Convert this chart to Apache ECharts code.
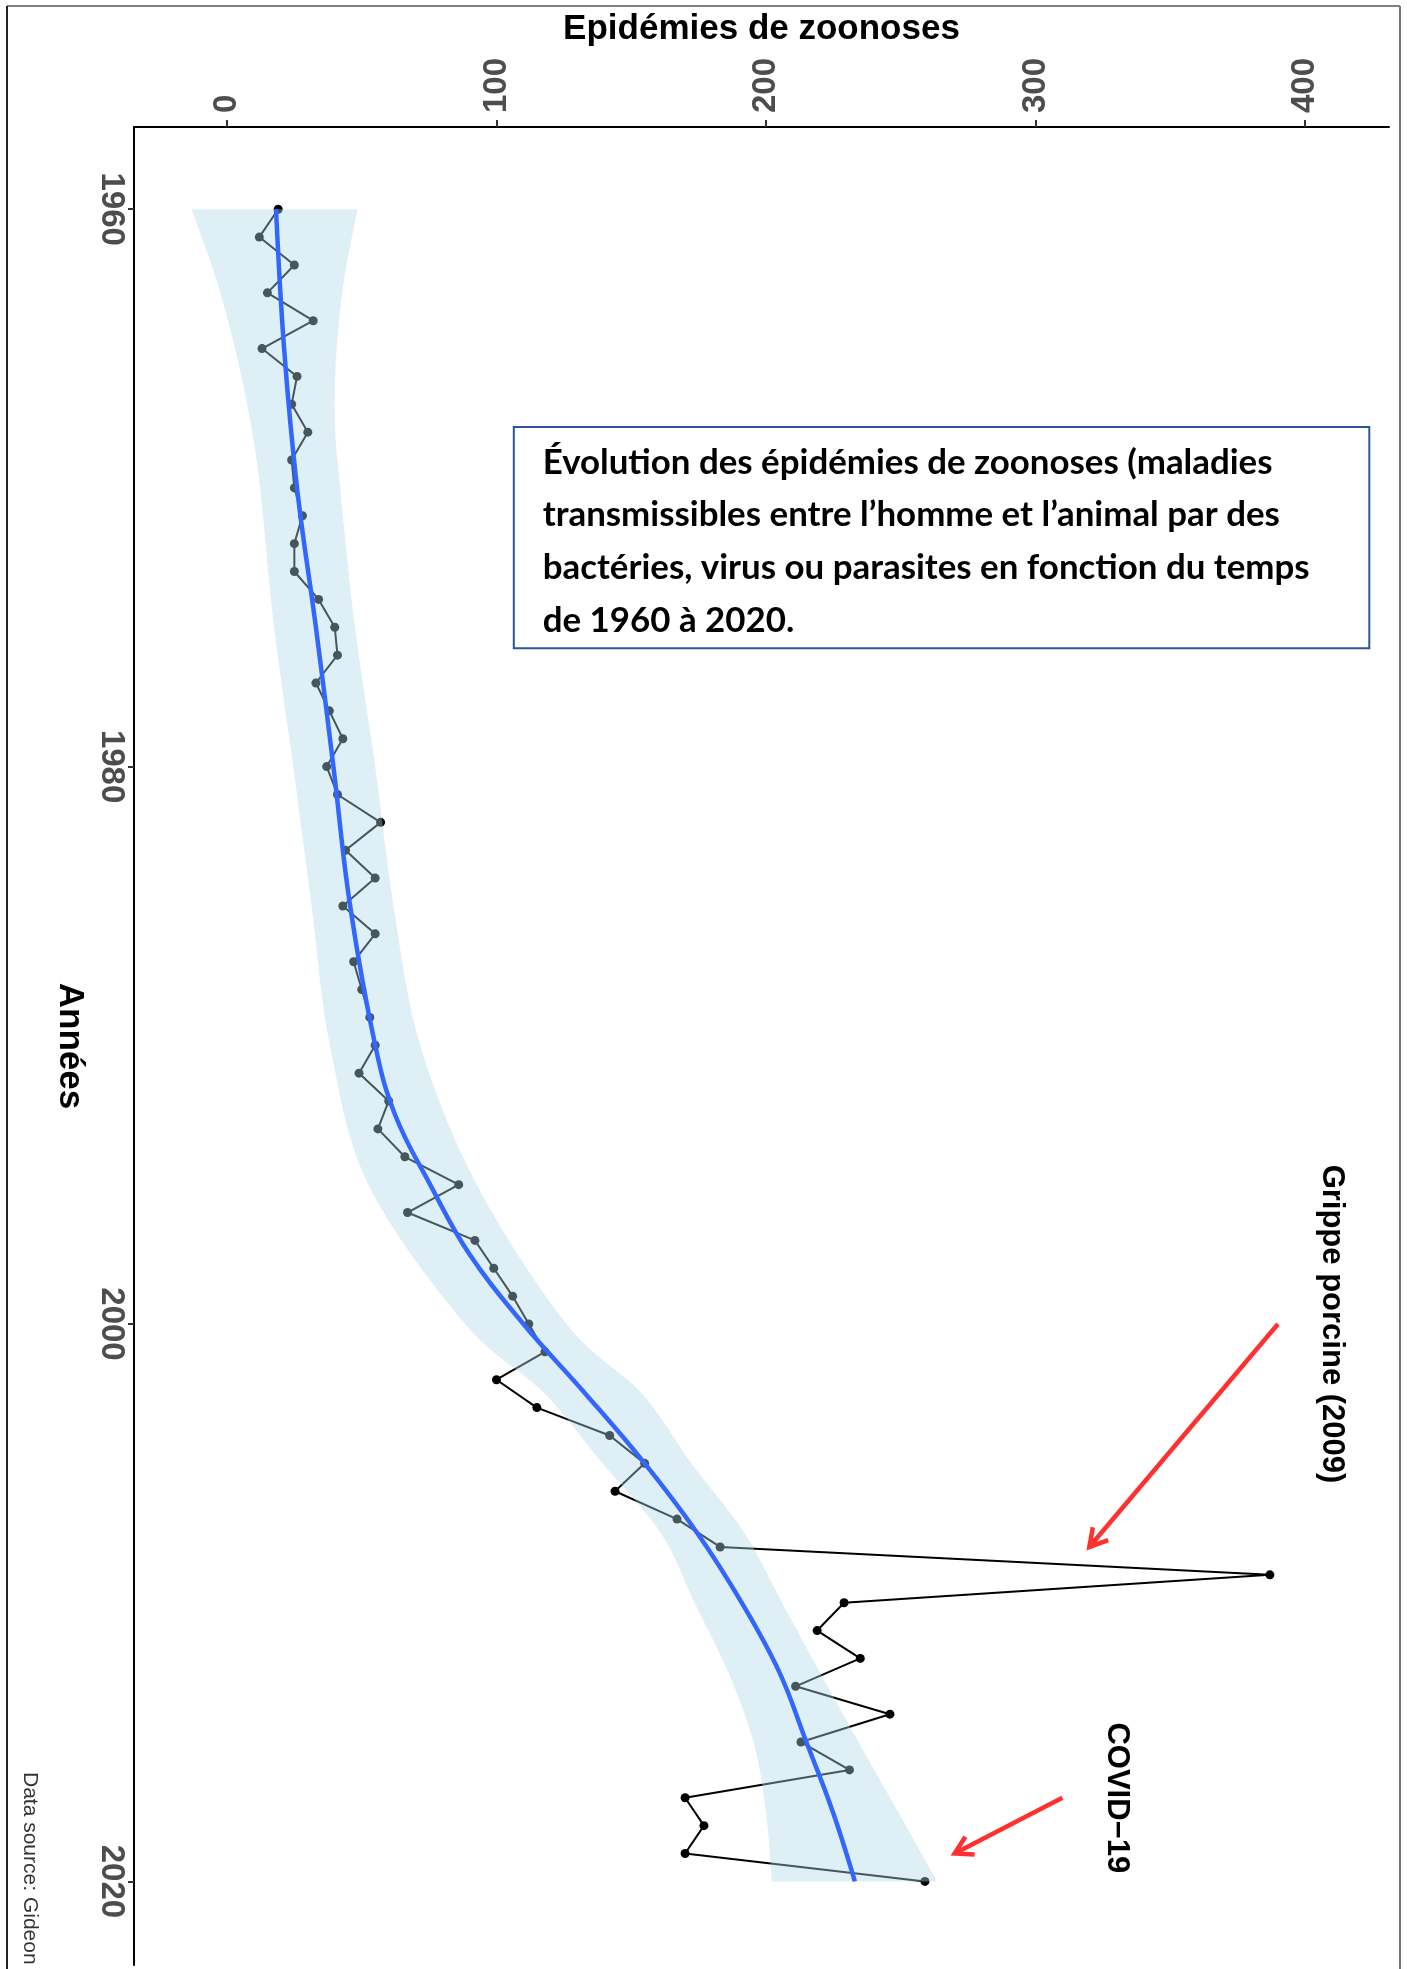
<!DOCTYPE html>
<html><head><meta charset="utf-8">
<script src="https://cdn.jsdelivr.net/npm/echarts@6/dist/echarts.min.js"></script>
<style>html,body{margin:0;padding:0;background:#fff}#c{width:1407px;height:1969px}</style>
</head><body><div id="c"></div>
<script>
// ---------------- DATA ----------------
const years = [1960,1961,1962,1963,1964,1965,1966,1967,1968,1969,
               1970,1971,1972,1973,1974,1975,1976,1977,1978,1979,
               1980,1981,1982,1983,1984,1985,1986,1987,1988,1989,
               1990,1991,1992,1993,1994,1995,1996,1997,1998,1999,
               2000,2001,2002,2003,2004,2005,2006,2007,2008,2009,
               2010,2011,2012,2013,2014,2015,2016,2017,2018,2019,2020];
const outbreaks = [19,12,25,15,32,13,26,24,30,24,
                   25,28,25,25,34,40,41,33,38,43,
                   37,41,57,44,55,43,55,47,50,53,
                   55,49,60,56,66,86,67,92,99,106,
                   112,118,100,115,142,155,144,167,183,387,
                   229,219,235,211,246,213,231,170,177,170,259];
// smoothed trend (loess)
const trendYears  = [1960,1965,1970,1975,1980,1985,1990,1992.5,1995,1997.5,2000,2002.5,2005,2007.5,2010,2012.5,2015,2017.5,2020];
const trendValues = [18.2,21.2,26,33,39.5,45.7,55,62.4,75.4,90,110,133,155,174.5,191,205,215,224.8,233];
// confidence band
const bandYears = [1960,1962.5,1965,1967.5,1970,1975,1980,1985,1990,1995,2000,2002.5,2005,2007.5,2010,2012.5,2015,2017.5,2020];
const bandLower = [-13.1,-4,3,8.5,12.3,17.5,24.6,31.4,38.2,52.5,88.4,118,139.3,161,173.5,186,195.4,200,202.2];
const bandUpper = [48.5,43.5,40.7,40,42,47.5,55,61.8,71.7,92.7,126,154,172.3,192,206,220,234.3,249,263.5];
const xTicks = [0,100,200,300,400];
const yTicks = [1960,1980,2000,2020];
const xTitle = 'Epidémies de zoonoses';
const yTitle = 'Années';
const caption = 'Data source: Gideon';
const boxLines = [
  'Évolution des épidémies de zoonoses (maladies',
  'transmissibles entre l’homme et l’animal par des',
  'bactéries, virus ou parasites en fonction du temps',
  'de 1960 à 2020.'
];
const annotations = [
  {text:'Grippe porcine (2009)', at:[410,2000], from:[390,2000], to:[320,2008]},
  {text:'COVID−19', at:[330,2017], from:[310,2017], to:[270,2019]}
];

// ---------------- CHART ----------------
const FONT = '"Liberation Sans", Arial, sans-serif';
const chart = echarts.init(document.getElementById('c'), null, {renderer:'canvas'});

function crSegments(pts){
  let d = '';
  for (let i=0;i<pts.length-1;i++){
    const p0 = pts[i-1]||pts[i], p1 = pts[i], p2 = pts[i+1], p3 = pts[i+2]||pts[i+1];
    const c1 = [p1[0]+(p2[0]-p0[0])/6, p1[1]+(p2[1]-p0[1])/6];
    const c2 = [p2[0]-(p3[0]-p1[0])/6, p2[1]-(p3[1]-p1[1])/6];
    d += ' C'+c1[0].toFixed(2)+','+c1[1].toFixed(2)+' '+c2[0].toFixed(2)+','+c2[1].toFixed(2)+' '+p2[0].toFixed(2)+','+p2[1].toFixed(2);
  }
  return d;
}

const option = {
  animation:false,
  backgroundColor:'#ffffff',
  grid:{left:134, top:127, right:18, bottom:4, containLabel:false},
  xAxis:{
    type:'value', position:'top', min:-34.5, max:431.2,
    name:xTitle, nameLocation:'middle', nameGap:80,
    nameTextStyle:{fontFamily:FONT, fontSize:35, fontWeight:'bold', color:'#000'},
    axisLine:{show:true, onZero:false, lineStyle:{color:'#000', width:2}},
    axisTick:{show:true, length:7, customValues:xTicks, lineStyle:{color:'#333', width:2}},
    axisLabel:{customValues:xTicks, rotate:-90, margin:14, fontFamily:FONT, fontSize:33,
               fontWeight:'bold', color:'#4d4d4d', formatter:v=>String(v)},
    splitLine:{show:false}
  },
  yAxis:{
    type:'value', inverse:true, min:1957.05, max:2023, position:'left',
    name:yTitle, nameLocation:'middle', nameGap:44, nameRotate:-90,
    nameTextStyle:{fontFamily:FONT, fontSize:35, fontWeight:'bold', color:'#000'},
    axisLine:{show:true, onZero:false, lineStyle:{color:'#000', width:2}},
    axisTick:{show:true, length:6, customValues:yTicks, lineStyle:{color:'#333', width:2}},
    axisLabel:{customValues:yTicks, rotate:-90, margin:6, fontFamily:FONT, fontSize:33,
               fontWeight:'bold', color:'#4d4d4d', formatter:v=>String(v)},
    splitLine:{show:false}
  },
  series:[
    {
      type:'line', name:'outbreaks', z:2, silent:true,
      data: years.map((y,i)=>[outbreaks[i], y]),
      symbol:'circle', symbolSize:9, showSymbol:true, showAllSymbol:true,
      lineStyle:{color:'#000', width:2}, itemStyle:{color:'#000'}
    },
    {
      type:'custom', name:'band', z:3, silent:true,
      data: bandYears.map((y,i)=>[bandLower[i], y, bandUpper[i]]),
      encode:{x:[0,2], y:1},
      renderItem:function(params, api){
        if (params.dataIndex !== 0) return null;
        const up = bandYears.map((y,i)=>api.coord([bandUpper[i], y]));
        const lo = bandYears.map((y,i)=>api.coord([bandLower[i], y])).reverse();
        const d = 'M'+up[0][0].toFixed(2)+','+up[0][1].toFixed(2) + crSegments(up)
                + ' L'+lo[0][0].toFixed(2)+','+lo[0][1].toFixed(2) + crSegments(lo) + ' Z';
        return {type:'path', shape:{pathData:d},
                style:{fill:'rgba(173,216,230,0.4)', stroke:null}};
      }
    },
    {
      type:'line', name:'trend', z:4, silent:true,
      data: trendYears.map((y,i)=>[trendValues[i], y]),
      smooth:0.4, showSymbol:false, symbol:'none',
      lineStyle:{color:'#3366FF', width:4.5}
    }
  ]
};
chart.setOption(option);

// ---------------- ANNOTATIONS ----------------
function px(v){ return chart.convertToPixel({gridIndex:0}, v); }
const RED = '#FF3030';
const g = [];
// outer frame
g.push({type:'line', z:100, shape:{x1:7,y1:6,x2:1400,y2:6}, style:{stroke:'#808080', lineWidth:2}});
g.push({type:'line', z:100, shape:{x1:7,y1:6,x2:7,y2:1969}, style:{stroke:'#222', lineWidth:2}});
g.push({type:'line', z:100, shape:{x1:1400,y1:6,x2:1400,y2:1969}, style:{stroke:'#777', lineWidth:2}});

annotations.forEach(a=>{
  const p = px(a.at);
  g.push({type:'text', z:100, x:p[0], y:p[1], rotation:-Math.PI/2,
    style:{text:a.text, fontFamily:FONT, fontWeight:'bold', fontSize:31, fill:'#000', align:'center', verticalAlign:'middle'}});
  const s = px(a.from), e = px(a.to);
  const ang = Math.atan2(s[1]-e[1], s[0]-e[0]);
  const L = 20, sp = Math.PI/6;
  const h1 = [e[0]+L*Math.cos(ang+sp), e[1]+L*Math.sin(ang+sp)];
  const h2 = [e[0]+L*Math.cos(ang-sp), e[1]+L*Math.sin(ang-sp)];
  g.push({type:'line', z:100, shape:{x1:s[0],y1:s[1],x2:e[0],y2:e[1]}, style:{stroke:RED, lineWidth:4.5}});
  g.push({type:'polyline', z:100, shape:{points:[h1,e,h2]}, style:{stroke:RED, lineWidth:4.5, fill:null}});
});

// text box
const ctx = document.createElement('canvas').getContext('2d');
ctx.font = 'bold 30px Lato';
const wMax = Math.max.apply(null, boxLines.map(l=>ctx.measureText(l).width));
const boxFont = 30*767/wMax;
g.push({type:'rect', z:100, shape:{x:513.8, y:427, width:855.5, height:221.2},
  style:{fill:'#fff', stroke:'#2F5597', lineWidth:2}});
g.push({type:'text', z:101, x:542.7, y:435.9,
  style:{text:boxLines.join('\n'), fontFamily:'Lato', fontWeight:'bold', fontSize:boxFont,
         lineHeight:52.8, fill:'#000', align:'left', verticalAlign:'top'}});

// caption
g.push({type:'text', z:100, x:30, y:1772, rotation:-Math.PI/2,
  style:{text:caption, fontFamily:FONT, fontSize:21, fill:'#333', align:'left', verticalAlign:'middle'}});

chart.setOption({graphic:g});
</script>
</body></html>
